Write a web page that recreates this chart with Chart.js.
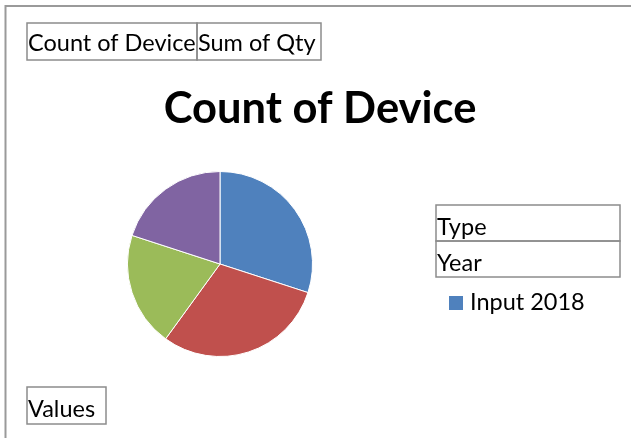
<!DOCTYPE html>
<html>
<head>
<meta charset="utf-8">
<script src="https://cdn.jsdelivr.net/npm/chart.js@4/dist/chart.umd.min.js"></script>
<style>
  html, body { margin: 0; padding: 0; background: #fff; }
  #wrap { width: 631px; height: 438px; position: relative; }
</style>
</head>
<body>
<div id="wrap"><canvas id="pie" width="631" height="438"></canvas></div>
<script>
// Data
var labels = ['Input 2018', 'Input 2019', 'Output 2018', 'Output 2019'];
var counts = [3, 3, 2, 2];
var colors = ['#4f81bd', '#c0504d', '#9bbb59', '#8064a2'];
var titleText = 'Count of Device';
var valueFields = ['Count of Device', 'Sum of Qty'];
var axisFields = ['Type', 'Year'];
var dataFieldLabel = 'Values';

var FONT = 'Lato, "Open Sans", sans-serif';
var BOX = '#8c8c8c';

// draws a pivot field button, text baseline at y + base
function fieldBox(ctx, text, x, y, w, h, base) {
    ctx.strokeStyle = BOX;
    ctx.lineWidth = 1.5;
    ctx.strokeRect(x, y, w, h);
    ctx.fillStyle = '#000';
    ctx.font = '23.5px ' + FONT;
    ctx.textBaseline = 'alphabetic';
    ctx.textAlign = 'left';
    ctx.fillText(text, x + 1, y + base);
}

var decor = {
    id: 'decor',
    afterDraw: function (chart) {
        var ctx = chart.ctx;
        ctx.save();
        // outer frame (top + left)
        ctx.strokeStyle = '#9a9a9a';
        ctx.lineWidth = 2;
        ctx.beginPath();
        ctx.moveTo(5.5, 438);
        ctx.lineTo(5.5, 6);
        ctx.lineTo(631, 6);
        ctx.stroke();

        // value field buttons
        fieldBox(ctx, valueFields[0], 27, 23, 170, 37, 28);
        fieldBox(ctx, valueFields[1], 197, 23, 124, 37, 28);

        // title
        ctx.fillStyle = '#000';
        ctx.font = 'bold 43.5px ' + FONT;
        ctx.textAlign = 'center';
        ctx.fillText(titleText, 320, 123);

        // axis field buttons
        fieldBox(ctx, axisFields[0], 436, 205, 184, 36, 30);
        fieldBox(ctx, axisFields[1], 436, 241, 184, 36, 30);

        // legend (first entry only, as in the pivot)
        ctx.fillStyle = chart.data.datasets[0].backgroundColor[0];
        ctx.fillRect(449, 296, 14, 14);
        ctx.fillStyle = '#000';
        ctx.font = '23.5px ' + FONT;
        ctx.textAlign = 'left';
        ctx.fillText(chart.data.labels[0], 470, 310);

        // data field button
        fieldBox(ctx, dataFieldLabel, 27, 387, 79, 37, 30);
        ctx.restore();
    }
};

new Chart(document.getElementById('pie'), {
    type: 'pie',
    data: {
        labels: labels,
        datasets: [{
            data: counts,
            backgroundColor: colors,
            borderColor: '#ffffff',
            borderWidth: 1
        }]
    },
    options: {
        responsive: false,
        animation: false,
        layout: {
            padding: { left: 126, right: 317, top: 171, bottom: 81 }
        },
        plugins: {
            legend: { display: false },
            title: { display: false },
            tooltip: { enabled: false }
        }
    },
    plugins: [decor]
});
</script>
</body>
</html>
